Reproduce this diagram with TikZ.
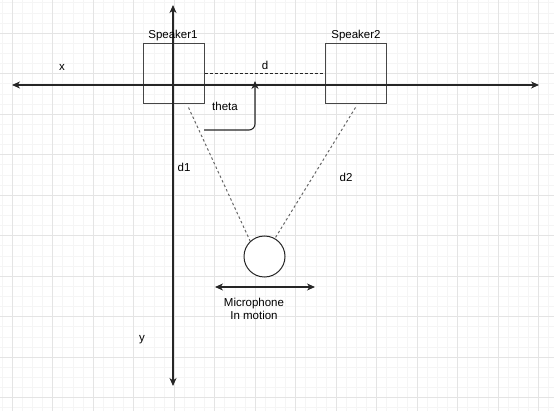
\documentclass[tikz,border=0pt]{standalone}
\usepackage{fontspec}
\setmainfont{Liberation Sans}
\usetikzlibrary{arrows,arrows.meta,positioning,calc}
\definecolor{gridminor}{RGB}{245,245,245}
\definecolor{gridmajor}{RGB}{228,228,228}
\definecolor{boxline}{RGB}{70,70,70}
\tikzstyle{axis} = [line width=1.1pt,{Stealth[length=8pt,width=7pt,inset=2.5pt]}-{Stealth[length=8pt,width=7pt,inset=2.5pt]},color=black!85]
\tikzstyle{speaker} = [rectangle, draw=boxline, minimum width=61pt, minimum height=60pt, line width=1pt]
\tikzstyle{lbl} = [font=\fontsize{11.5}{13}\selectfont, inner sep=1pt]
\tikzstyle{path} = [line width=1pt, color=black!60, dash pattern=on 2.5pt off 2.5pt]

\begin{document}
\begin{tikzpicture}[x=1pt,y=-1pt]
\useasboundingbox (0,0) rectangle (554,411);
% Grid in the background
\foreach \i in {0,...,55} {
    \draw[gridminor] ({1.875+10.125*\i},0) -- ({1.875+10.125*\i},411);
}
\foreach \i in {0,...,40} {
    \draw[gridminor] (0,{2.625+10.125*\i}) -- (554,{2.625+10.125*\i});
}
\foreach \i in {0,...,13} {
    \draw[gridmajor] ({12+40.5*\i},0) -- ({12+40.5*\i},411);
}
\foreach \i in {0,...,9} {
    \draw[gridmajor] (0,{33+40.5*\i}) -- (554,{33+40.5*\i});
}

% Axes
\coordinate (xL) at (12,85);
\coordinate (xR) at (539,85);
\coordinate (yT) at (173,5);
\coordinate (yB) at (173,386);

% Speakers and microphone
\node[speaker] (spk1) at (173.5,74) {};
\node[speaker] (spk2) at (355.5,74) {};
\node[circle, draw=black!85, fill=white, minimum size=41pt, inner sep=0pt, line width=1pt] (mic) at (264.5,256.5) {};

\draw[axis] (xL) -- (xR);
\draw[axis] (yT) -- (yB);

% Labels
\node[lbl] (spk1lbl) at (173,36) {Speaker1};
\node[lbl] (spk2lbl) at (356,36) {Speaker2};
\node[lbl] (xlbl) at (62,67) {x};
\node[lbl] (ylbl) at (142,340) {y};
\node[lbl] (dlbl) at (265,65) {d};
\node[lbl] (thetalbl) at (225,106) {theta};
\node[lbl] (d1lbl) at (184,167) {d1};
\node[lbl] (d2lbl) at (346,177) {d2};
\node[lbl, align=center] (miclbl) at (254,308.5) {Microphone\\In motion};

% Distances
\draw[line width=1pt, dash pattern=on 3pt off 2pt, black!85] (spk1.east) -- (spk2.west);
\draw[path] ($(spk1.south)+(15,3)$) -- (mic.133);
\draw[path] ($(spk2.south)+(0,3)$) -- (mic.60);

% Angle arrow
\coordinate (thS) at (204,130);
\coordinate (thE) at (255,81);
\draw[line width=1.1pt, -{Stealth[length=8pt,width=7pt,inset=2.5pt]}, black!85, rounded corners=6pt] (thS) -| (thE);

% Motion of the microphone
\coordinate (mvL) at (215,287);
\coordinate (mvR) at (315,287);
\draw[axis] (mvL) -- (mvR);
\end{tikzpicture}
\end{document}
